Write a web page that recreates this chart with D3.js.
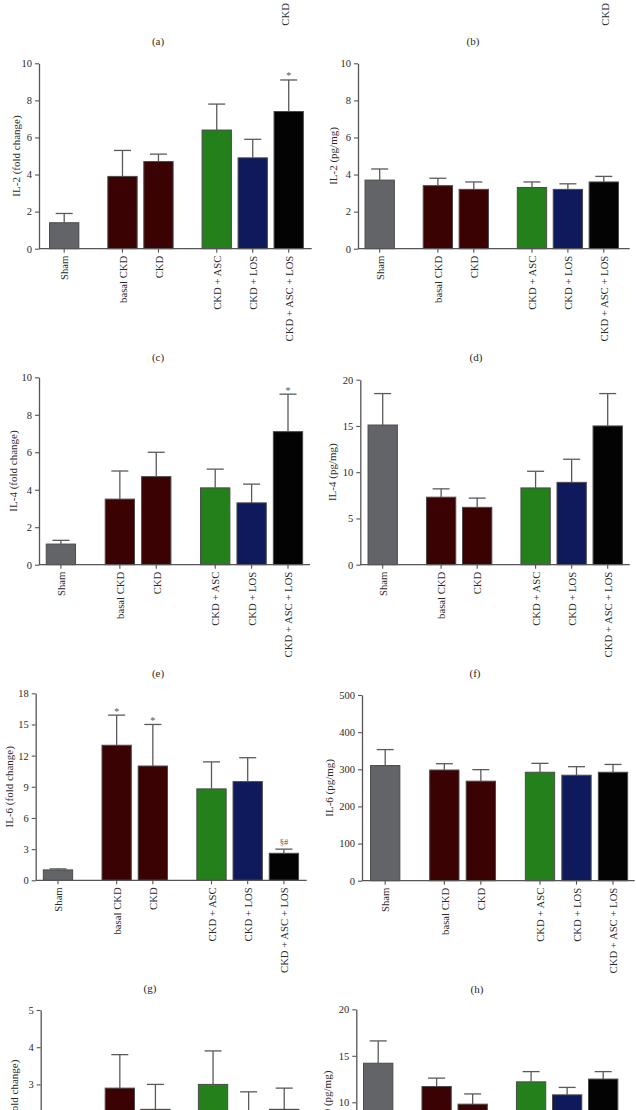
<!DOCTYPE html>
<html><head><meta charset="utf-8">
<script src="https://cdn.jsdelivr.net/npm/d3@7"></script>
<style>html,body{margin:0;padding:0;background:#fff;}svg{display:block;}</style>
</head><body>
<svg id="chart" width="636" height="1110"></svg>
<script>
// ---------- data ----------
const categories = ["Sham", "basal CKD", "CKD", "CKD + ASC", "CKD + LOS", "CKD + ASC + LOS"];
const groupIndex = [0, 1, 1, 2, 2, 2];
const barColors = ["#636468", "#3a0203", "#3a0203", "#23801a", "#0f1a5c", "#030303"];

// (c) IL-2 fold change
const il2FoldMean = [1.4, 3.9, 4.7, 6.4, 4.9, 7.4];
const il2FoldErr  = [0.5, 1.4, 0.4, 1.4, 1.0, 1.7];
const il2FoldMarks = ["", "", "", "", "", "*"];
const il2FoldTicks = [0, 2, 4, 6, 8, 10];
// (d) IL-2 pg/mg
const il2PgMean = [3.7, 3.4, 3.2, 3.3, 3.2, 3.6];
const il2PgErr  = [0.6, 0.4, 0.4, 0.3, 0.3, 0.3];
const il2PgTicks = [0, 2, 4, 6, 8, 10];
// (e) IL-4 fold change
const il4FoldMean = [1.1, 3.5, 4.7, 4.1, 3.3, 7.1];
const il4FoldErr  = [0.2, 1.5, 1.3, 1.0, 1.0, 2.0];
const il4FoldMarks = ["", "", "", "", "", "*"];
const il4FoldTicks = [0, 2, 4, 6, 8, 10];
// (f) IL-4 pg/mg
const il4PgMean = [15.1, 7.3, 6.2, 8.3, 8.9, 15.0];
const il4PgErr  = [3.4, 0.9, 1.0, 1.8, 2.5, 3.5];
const il4PgTicks = [0, 5, 10, 15, 20];
// (g) IL-6 fold change
const il6FoldMean = [1.0, 13.0, 11.0, 8.8, 9.5, 2.6];
const il6FoldErr  = [0.1, 2.9, 4.0, 2.6, 2.3, 0.4];
const il6FoldMarks = ["", "*", "*", "", "", "§#"];
const il6FoldTicks = [0, 3, 6, 9, 12, 15, 18];
// (h) IL-6 pg/mg
const il6PgMean = [310, 298, 268, 292, 284, 292];
const il6PgErr  = [43, 17, 31, 24, 23, 21];
const il6PgTicks = [0, 100, 200, 300, 400, 500];
// (i) IL-10 fold change (lower part cut off in the figure)
const il10FoldMean = [1.0, 2.9, 2.33, 3.0, 2.1, 2.33];
const il10FoldErr  = [0.2, 0.9, 0.67, 0.9, 0.7, 0.57];
const il10FoldTicks = [0, 1, 2, 3, 4, 5];
// (j) IL-10 pg/mg
const il10PgMean = [14.2, 11.7, 9.8, 12.2, 10.8, 12.5];
const il10PgErr  = [2.4, 0.9, 1.1, 1.1, 0.8, 0.8];
const il10PgTicks = [0, 5, 10, 15, 20];

// ---------- panels ----------
const panels = [
  {tag: "(a)", categoriesOnly: true, axisX: 39, zeroY: -67, topY: -252, first: 22, last: 246, xEnd: 310, tagX: 158, ylabX: 19},
  {tag: "(b)", categoriesOnly: true, axisX: 358, zeroY: -67, topY: -252, first: 22, last: 247, xEnd: 629, tagX: 473, ylabX: 337},
  {tag: "(c)", yLabel: "IL-2 (fold change)", mean: il2FoldMean, err: il2FoldErr, marks: il2FoldMarks, ticks: il2FoldTicks,
   axisX: 39, zeroY: 248.7, topY: 63.3, first: 25.2, last: 249.7, xEnd: 311.7, tagX: 158, ylabX: 19.5},
  {tag: "(d)", yLabel: "IL-2 (pg/mg)", mean: il2PgMean, err: il2PgErr, ticks: il2PgTicks,
   axisX: 358, zeroY: 248.7, topY: 63.3, first: 21.7, last: 245.8, xEnd: 629.7, tagX: 476, ylabX: 337},
  {tag: "(e)", yLabel: "IL-4 (fold change)", mean: il4FoldMean, err: il4FoldErr, marks: il4FoldMarks, ticks: il4FoldTicks,
   axisX: 39, zeroY: 564.7, topY: 377.3, first: 21.9, last: 249, xEnd: 310, tagX: 158, ylabX: 16.5},
  {tag: "(f)", yLabel: "IL-4 (pg/mg)", mean: il4PgMean, err: il4PgErr, ticks: il4PgTicks,
   axisX: 360.3, zeroY: 564.7, topY: 379.7, first: 22.4, last: 247.4, xEnd: 629.7, tagX: 475, ylabX: 336},
  {tag: "(g)", yLabel: "IL-6 (fold change)", mean: il6FoldMean, err: il6FoldErr, marks: il6FoldMarks, ticks: il6FoldTicks,
   axisX: 35.7, zeroY: 880.3, topY: 693.3, first: 22.3, last: 248.2, xEnd: 306.7, tagX: 150, ylabX: 13.3},
  {tag: "(h)", yLabel: "IL-6 (pg/mg)", mean: il6PgMean, err: il6PgErr, ticks: il6PgTicks,
   axisX: 362, zeroY: 880.7, topY: 695, first: 23.2, last: 251, xEnd: 634.7, tagX: 477, ylabX: 333},
  {tag: "(i)", yLabel: "IL-10 (fold change)", mean: il10FoldMean, err: il10FoldErr, ticks: il10FoldTicks,
   axisX: 40.7, zeroY: 1196, topY: 1010, first: 21.5, last: 243.5, xEnd: 311, tagX: 158, ylabX: 18.3},
  {tag: "(j)", yLabel: "IL-10 (pg/mg)", mean: il10PgMean, err: il10PgErr, ticks: il10PgTicks,
   axisX: 356.3, zeroY: 1195.3, topY: 1009.3, first: 21.9, last: 246.9, xEnd: 628, tagX: 474, ylabX: 331}
];

const W = 636, H = 1110;
const FONT = "'Liberation Serif', 'Times New Roman', serif";
const AXIS = "#555";
const TEXT = "#2a2a2a";
const BAR_W = 29.3;
const CAP = 8.5;

const svg = d3.select("#chart");
const slotPos = categories.map((c, i) => i + groupIndex[i] * 0.62);

panels.forEach(p => {
  const g = svg.append("g");
  const x = d3.scaleLinear().domain([0, slotPos[slotPos.length - 1]])
    .range([p.axisX + p.first, p.axisX + p.last]);

  // category labels (rotated) + x ticks
  const xl = g.append("g");
  categories.forEach((c, i) => {
    const cx = x(slotPos[i]);
    if (!p.categoriesOnly) {
      xl.append("line").attr("x1", cx).attr("x2", cx)
        .attr("y1", p.zeroY).attr("y2", p.zeroY + 4)
        .attr("stroke", AXIS).attr("stroke-width", 1.1);
    }
    xl.append("text")
      .attr("transform", `translate(${cx},${p.zeroY + 7}) rotate(-90)`)
      .attr("text-anchor", "end").attr("dy", "0.4em")
      .attr("font-family", FONT).attr("font-size", 10.7).attr("fill", TEXT)
      .text(c);
  });

  // panel tag
  g.append("text").attr("x", p.tagX).attr("y", p.zeroY + 112)
    .attr("text-anchor", "middle").attr("font-family", FONT)
    .attr("font-size", 11).attr("fill", TEXT).text(p.tag);

  if (p.categoriesOnly) return;

  const yMax = p.ticks[p.ticks.length - 1];
  const y = d3.scaleLinear().domain([0, yMax]).range([p.zeroY, p.topY]);

  // bars
  g.append("g").selectAll("rect").data(p.mean).join("rect")
    .attr("x", (d, i) => x(slotPos[i]) - BAR_W / 2)
    .attr("y", d => y(d))
    .attr("width", BAR_W)
    .attr("height", d => y(0) - y(d))
    .attr("fill", (d, i) => barColors[i])
    .attr("stroke", "#4a4a4a").attr("stroke-width", 1);

  // error bars
  const eb = g.append("g").attr("stroke", "#5a5a5a").attr("stroke-width", 1.3);
  p.mean.forEach((m, i) => {
    const cx = x(slotPos[i]);
    const top = y(m + p.err[i]);
    eb.append("line").attr("x1", cx).attr("x2", cx).attr("y1", y(m)).attr("y2", top);
    eb.append("line").attr("x1", cx - CAP).attr("x2", cx + CAP).attr("y1", top).attr("y2", top);
    const mk = p.marks ? p.marks[i] : "";
    if (mk) {
      g.append("text").attr("x", cx).attr("y", mk === "*" ? top - 0.5 : top - 4)
        .attr("text-anchor", "middle").attr("font-family", FONT)
        .attr("font-size", mk === "*" ? 10 : 8.5).attr("fill", "#555").text(mk);
    }
  });

  // x axis line
  g.append("line").attr("x1", p.axisX).attr("x2", p.xEnd)
    .attr("y1", p.zeroY).attr("y2", p.zeroY)
    .attr("stroke", AXIS).attr("stroke-width", 1.3);

  // y axis
  const ya = g.append("g").attr("transform", `translate(${p.axisX},0)`)
    .call(d3.axisLeft(y).tickValues(p.ticks).tickSize(4).tickSizeOuter(0).tickPadding(3).tickFormat(d3.format("d")));
  ya.select(".domain").attr("stroke", AXIS).attr("stroke-width", 1.3);
  ya.selectAll(".tick line").attr("stroke", AXIS).attr("stroke-width", 1.1);
  ya.selectAll(".tick text").attr("font-family", FONT).attr("font-size", 10.5).attr("fill", TEXT);

  // y label
  g.append("text")
    .attr("transform", `translate(${p.ylabX},${(p.zeroY + p.topY) / 2}) rotate(-90)`)
    .attr("text-anchor", "middle").attr("font-family", FONT)
    .attr("font-size", 11).attr("fill", TEXT).text(p.yLabel);
});

// drop texts that lie entirely outside the visible figure (the reference crops them away)
const box = document.getElementById("chart").getBoundingClientRect();
svg.selectAll("text").each(function () {
  const r = this.getBoundingClientRect();
  if (r.bottom <= box.top || r.top >= box.top + H || r.right <= box.left || r.left >= box.left + W) {
    d3.select(this).remove();
  }
});
</script>
</body></html>
